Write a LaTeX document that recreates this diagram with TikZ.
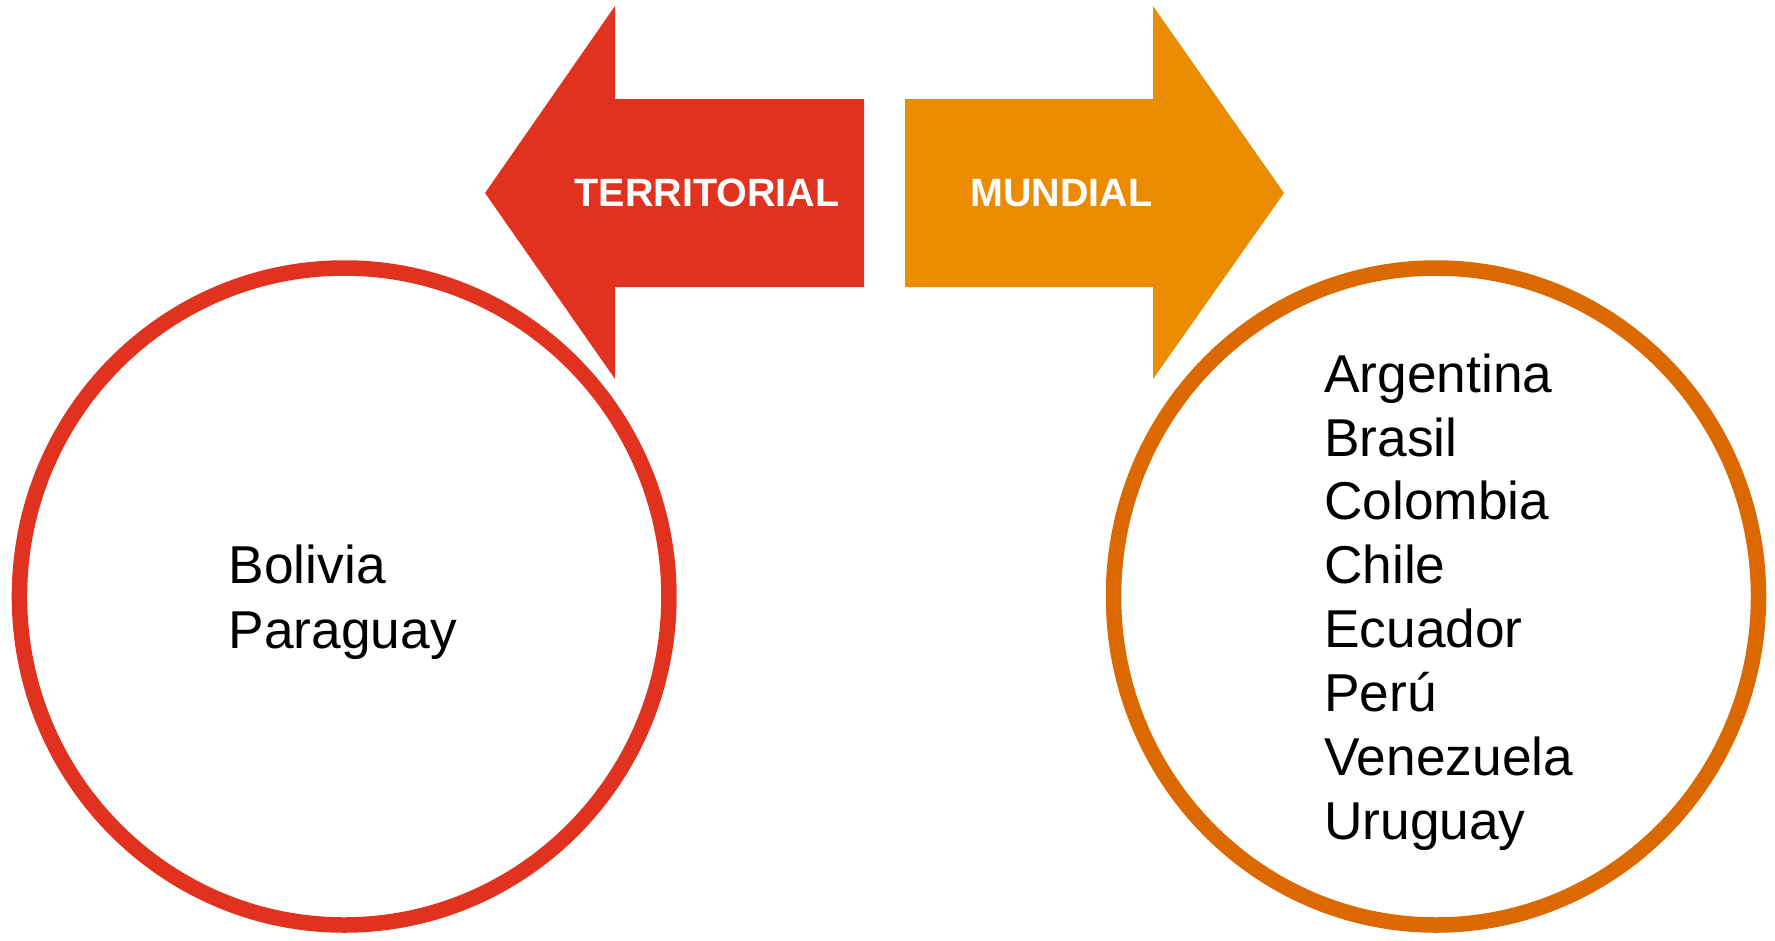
\documentclass[tikz,border=0pt]{standalone}
\usepackage{fontspec}
\setmainfont{Liberation Sans}
\usetikzlibrary{shapes.geometric}
\definecolor{pwcred}{HTML}{E0321F}
\definecolor{pwcorange}{HTML}{EB8C00}
\definecolor{pwctang}{HTML}{DC6900}
\begin{document}
\begin{tikzpicture}[x=1pt,y=-1pt,
  ring/.style={ellipse,draw,line width=15.5pt,inner sep=0pt,minimum height=657pt},
  listname/.style={anchor=base west,inner sep=0pt,font=\fontsize{53.3}{60}\selectfont},
  arrowlabel/.style={anchor=base,inner sep=0pt,text=white,font=\fontsize{39.5}{45}\selectfont\bfseries}]
\useasboundingbox (0,0) rectangle (1775,940);
% arrows
\fill[pwcred] (485,193) -- (615,6) -- (615,99) -- (864,99) -- (864,287) -- (615,287) -- (615,379) -- cycle;
\fill[pwcorange] (1284,193) -- (1153,6) -- (1153,99) -- (905,99) -- (905,287) -- (1153,287) -- (1153,379) -- cycle;
\node[arrowlabel] (terr) at (707,206) {TERRITORIAL};
\node[arrowlabel] (mund) at (1061.5,206) {MUNDIAL};
% circles
\node[ring,draw=pwcred,minimum width=649.5pt] (lc) at (344.2,596.5) {};
\node[ring,draw=pwctang,minimum width=645pt] (rc) at (1436,596.5) {};
% left list
\node[listname] (bol) at (228.5,583.3) {Bolivia};
\node[listname] (par) at (228.5,648.3) {Paraguay};
% right list
\node[listname] (arg) at (1324,392.3) {Argentina};
\node[listname] (bra) at (1324,456.2) {Brasil};
\node[listname] (col) at (1324,519.9) {Colombia};
\node[listname] (chi) at (1324,583.7) {Chile};
\node[listname] (ecu) at (1324,647.6) {Ecuador};
\node[listname] (per) at (1324,711.5) {Perú};
\node[listname] (ven) at (1324,775.4) {Venezuela};
\node[listname] (uru) at (1324,839.3) {Uruguay};
\end{tikzpicture}
\end{document}
